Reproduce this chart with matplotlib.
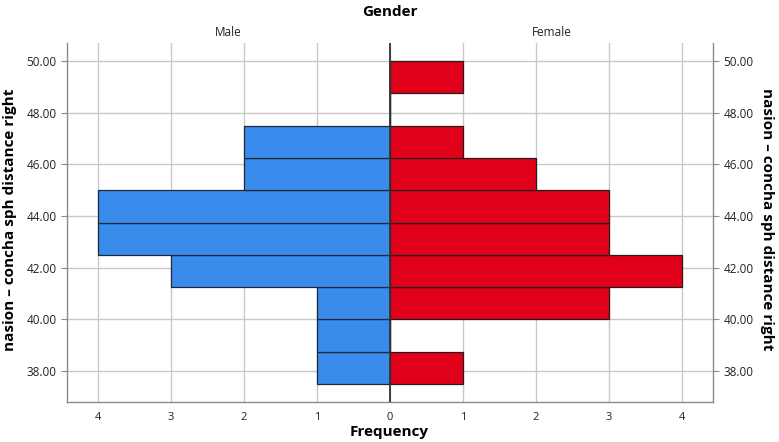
import numpy as np
import matplotlib
matplotlib.use("Agg")
import matplotlib.pyplot as plt

# histogram bins of "nasion - concha sph distance right" (bin width 1.25)
bin_edges = [37.5, 38.75, 40.0, 41.25, 42.5, 43.75, 45.0, 46.25, 47.5, 48.75, 50.0]
male_counts = [1, 1, 1, 3, 4, 4, 2, 2, 0, 0]
female_counts = [1, 0, 3, 4, 3, 3, 2, 1, 0, 1]
y_ticks = [38, 40, 42, 44, 46, 48, 50]
x_ticks = [-4, -3, -2, -1, 0, 1, 2, 3, 4]

BLUE = "#3a8cec"
RED = "#e0001a"
FONT = ["Open Sans", "DejaVu Sans"]
plt.rcParams["font.family"] = FONT

fig = plt.figure(figsize=(7.79, 4.42), dpi=100)
ax = fig.add_axes([0.086, 0.0905, 0.829, 0.812])

edges = np.array(bin_edges)
lows = edges[:-1]
widths = np.diff(edges)

ax.barh(lows, [-c for c in male_counts], height=widths, align="edge",
        color=BLUE, edgecolor="#1e2a3a", linewidth=0.9, zorder=3)
ax.barh(lows, female_counts, height=widths, align="edge",
        color=RED, edgecolor="#2a1a1a", linewidth=0.9, zorder=3)

ax.set_xlim(-4.42, 4.42)
ax.set_ylim(36.8, 50.7)
ax.set_xticks(x_ticks)
ax.set_xticklabels([str(abs(t)) for t in x_ticks])
ax.set_yticks(y_ticks)
ax.set_yticklabels([f"{v:.2f}" for v in y_ticks])

ax.grid(True, color="#c8c8c8", linewidth=1.0, zorder=0)
ax.axvline(0, color="#333333", linewidth=1.3, zorder=4)

for side in ["left", "right", "bottom"]:
    ax.spines[side].set_color("#8a8a8a")
    ax.spines[side].set_linewidth(1.0)
ax.spines["top"].set_visible(False)

ax.tick_params(axis="y", which="both", left=True, right=True,
               labelleft=True, labelright=True, length=4,
               color="#8a8a8a", labelsize=8.5, labelcolor="#222222")
ax.tick_params(axis="x", length=0, pad=7, labelsize=8, labelcolor="#222222")

ylab = "nasion \u2013 concha sph distance right"
fig.text(0.013, 0.503, ylab, rotation=90, ha="center", va="center",
         fontsize=11, fontweight="bold")
fig.text(0.985, 0.503, ylab, rotation=270, ha="center", va="center",
         fontsize=11, fontweight="bold")

fig.text(0.5, 0.972, "Gender", ha="center", va="center",
         fontsize=11, fontweight="bold")
fig.text(0.293, 0.927, "Male", ha="center", va="center", fontsize=8.5,
         color="#222222")
fig.text(0.709, 0.927, "Female", ha="center", va="center", fontsize=8.5,
         color="#222222")
fig.text(0.5, 0.022, "Frequency", ha="center", va="center",
         fontsize=11, fontweight="bold")

fig.savefig("out.png", dpi=100)
